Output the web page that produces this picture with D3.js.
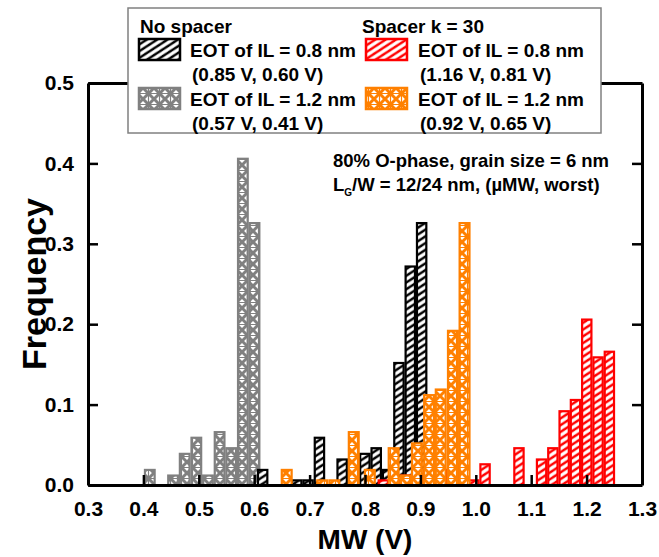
<!DOCTYPE html>
<html>
<head>
<meta charset="utf-8">
<script src="https://cdn.jsdelivr.net/npm/d3@7"></script>
<style>
  body { margin: 0; background: #fff; }
  svg text { font-family: "Liberation Sans", Arial, sans-serif; font-weight: bold; }
</style>
</head>
<body>
<div id="chart"></div>
<script>
// ---- data (MW in V, frequency) ----
const xTicks = [0.3, 0.4, 0.5, 0.6, 0.7, 0.8, 0.9, 1.0, 1.1, 1.2, 1.3];
const yTicks = [0.0, 0.1, 0.2, 0.3, 0.4, 0.5];

// no spacer, EOT of IL = 1.2 nm (gray)
const grayWidth = 0.0211;
const grayLeft = [0.401, 0.422, 0.443, 0.464, 0.485, 0.506, 0.527, 0.548, 0.569, 0.590];
const grayFreq = [0.020, 0.000, 0.013, 0.040, 0.060, 0.013, 0.067, 0.047, 0.407, 0.327];

// no spacer, EOT of IL = 0.8 nm (black)
const blackWidth = 0.0205;
const blackLeft = [0.605, 0.6255, 0.646, 0.6665, 0.687, 0.7075, 0.728, 0.7485, 0.769, 0.7895, 0.810, 0.8305, 0.851, 0.8715, 0.892];
const blackFreq = [0.020, 0.000, 0.000, 0.007, 0.007, 0.060, 0.000, 0.033, 0.013, 0.040, 0.047, 0.020, 0.153, 0.273, 0.327];

// spacer k = 30, EOT of IL = 0.8 nm (red)
const redWidth = 0.0204;
const redLeft = [0.8229, 0.8433, 0.8637, 0.8841, 0.9045, 0.9249, 0.9453, 0.9657, 0.9861, 1.0065, 1.0269, 1.0473, 1.0677, 1.0881, 1.1085, 1.1289, 1.1493, 1.1697, 1.1901, 1.2105, 1.2309];
const redFreq = [0.007, 0.007, 0.013, 0.013, 0.020, 0.013, 0.020, 0.027, 0.007, 0.027, 0.000, 0.000, 0.047, 0.000, 0.033, 0.047, 0.093, 0.107, 0.207, 0.160, 0.167];

// spacer k = 30, EOT of IL = 1.2 nm (orange)
const orangeWidth = 0.0214;
const orangeLeft = [0.648, 0.669, 0.691, 0.712, 0.734, 0.755, 0.769, 0.798, 0.819, 0.841, 0.862, 0.883, 0.905, 0.926, 0.948, 0.969];
const orangeFreq = [0.020, 0.000, 0.000, 0.007, 0.007, 0.000, 0.067, 0.020, 0.000, 0.047, 0.013, 0.053, 0.113, 0.120, 0.193, 0.327];

const width = 659, height = 557;
const margin = { left: 88, right: 17, top: 83, bottom: 72 };

const svg = d3.select("#chart").append("svg")
    .attr("width", width)
    .attr("height", height);

const x = d3.scaleLinear().domain([0.3, 1.3]).range([margin.left, width - margin.right]);
const y = d3.scaleLinear().domain([0, 0.5]).range([height - margin.bottom, margin.top]);

// hatch patterns
const defs = svg.append("defs");

function diagPattern(id, color) {
    const p = defs.append("pattern")
        .attr("id", id)
        .attr("patternUnits", "userSpaceOnUse")
        .attr("width", 8)
        .attr("height", 8)
        .attr("patternTransform", "rotate(12)");
    p.append("rect").attr("width", 8).attr("height", 8).attr("fill", "#fff");
    p.append("path")
        .attr("d", "M-2,2 l4,-4 M0,8 l8,-8 M6,10 l4,-4")
        .attr("stroke", color)
        .attr("stroke-width", 2.4);
}

function crossPattern(id, color) {
    const p = defs.append("pattern")
        .attr("id", id)
        .attr("patternUnits", "userSpaceOnUse")
        .attr("width", 11)
        .attr("height", 11);
    p.append("rect").attr("width", 11).attr("height", 11).attr("fill", "#fff");
    p.append("path")
        .attr("d", "M0,0 L11,11 M0,11 L11,0 M-1,-1 L1,1 M10,10 L12,12 M-1,12 L1,10 M10,1 L12,-1")
        .attr("stroke", color)
        .attr("stroke-width", 3);
    p.append("path")
        .attr("d", "M5.5,0 V11 M0,5.5 H11")
        .attr("stroke", color)
        .attr("stroke-width", 1.2);
}

diagPattern("hatchBlack", "#000");
diagPattern("hatchRed", "#ff0000");
crossPattern("crossGray", "#808080");
crossPattern("crossOrange", "#ff8000");

const series = [
    { left: grayLeft, freq: grayFreq, w: grayWidth, color: "#808080", fill: "url(#crossGray)" },
    { left: blackLeft, freq: blackFreq, w: blackWidth, color: "#000", fill: "url(#hatchBlack)" },
    { left: redLeft, freq: redFreq, w: redWidth, color: "#ff0000", fill: "url(#hatchRed)" },
    { left: orangeLeft, freq: orangeFreq, w: orangeWidth, color: "#ff8000", fill: "url(#crossOrange)" }
];

const plot = svg.append("g");

series.forEach((s) => {
    const bins = s.left.map((l, i) => ({ x0: l, x1: l + s.w, f: s.freq[i] })).filter((d) => d.f > 0);
    plot.append("g")
        .selectAll("rect")
        .data(bins)
        .join("rect")
        .attr("x", (d) => x(d.x0) + 1)
        .attr("y", (d) => y(d.f) + 1)
        .attr("width", (d) => x(d.x1) - x(d.x0) - 2)
        .attr("height", (d) => y(0) - y(d.f) - 1)
        .attr("fill", s.fill)
        .attr("stroke", s.color)
        .attr("stroke-width", 2.2);
});

// axes (ticks pointing inward)
const axisG = svg.append("g");

axisG.append("g")
    .attr("transform", `translate(0,${y(0)})`)
    .call(d3.axisBottom(x).tickValues(xTicks).tickFormat(d3.format(".1f")).tickSizeInner(-10).tickSizeOuter(0).tickPadding(16));

axisG.append("g")
    .attr("transform", `translate(0,${y(0.5)})`)
    .call(d3.axisTop(x).tickValues(xTicks).tickFormat("").tickSizeInner(0).tickSizeOuter(0));

axisG.append("g")
    .attr("transform", `translate(${x(0.3)},0)`)
    .call(d3.axisLeft(y).tickValues(yTicks).tickFormat(d3.format(".1f")).tickSizeInner(-10).tickSizeOuter(0).tickPadding(14));

axisG.append("g")
    .attr("transform", `translate(${x(1.3)},0)`)
    .call(d3.axisRight(y).tickValues(yTicks).tickFormat("").tickSizeInner(-10).tickSizeOuter(0));

axisG.selectAll(".domain").attr("stroke", "#000").attr("stroke-width", 3);
axisG.selectAll(".tick line").attr("stroke", "#000").attr("stroke-width", 2.5);
axisG.selectAll(".tick text").attr("font-size", 21).attr("fill", "#000");

// axis titles
svg.append("text")
    .attr("x", (x(0.3) + x(1.3)) / 2)
    .attr("y", 549)
    .attr("text-anchor", "middle")
    .attr("font-size", 28)
    .text("MW (V)");

svg.append("text")
    .attr("transform", `translate(46,${(y(0) + y(0.5)) / 2}) rotate(-90)`)
    .attr("text-anchor", "middle")
    .attr("font-size", 34)
    .text("Frequency");

// annotation
svg.append("text").attr("x", 333).attr("y", 167).attr("font-size", 18.5)
    .text("80% O-phase, grain size = 6 nm");
const note2 = svg.append("text").attr("x", 333).attr("y", 191).attr("font-size", 18.5);
note2.append("tspan").text("L");
note2.append("tspan").attr("font-size", 10).attr("dy", 5).text("G");
note2.append("tspan").attr("dy", -5).text("/W = 12/24 nm, (\u00b5MW, worst)");

// legend
const legend = svg.append("g");
legend.append("rect")
    .attr("x", 128).attr("y", 8)
    .attr("width", 473).attr("height", 125)
    .attr("fill", "#fff")
    .attr("stroke", "#808080")
    .attr("stroke-width", 1.5);

const legendItems = [
    { head: "No spacer", hx: 140, sx: 139, tx: 190, items: [
        { fill: "url(#hatchBlack)", color: "#000", label: "EOT of IL = 0.8 nm", sub: "(0.85 V, 0.60 V)" },
        { fill: "url(#crossGray)", color: "#808080", label: "EOT of IL = 1.2 nm", sub: "(0.57 V, 0.41 V)" }
    ] },
    { head: "Spacer k = 30", hx: 362, sx: 366, tx: 418, items: [
        { fill: "url(#hatchRed)", color: "#ff0000", label: "EOT of IL = 0.8 nm", sub: "(1.16 V, 0.81 V)" },
        { fill: "url(#crossOrange)", color: "#ff8000", label: "EOT of IL = 1.2 nm", sub: "(0.92 V, 0.65 V)" }
    ] }
];

legendItems.forEach((col) => {
    legend.append("text").attr("x", col.hx).attr("y", 33).attr("font-size", 19).text(col.head);
    col.items.forEach((it, i) => {
        const top = 39 + i * 49;
        legend.append("rect")
            .attr("x", col.sx).attr("y", top)
            .attr("width", 41).attr("height", 21)
            .attr("fill", it.fill)
            .attr("stroke", it.color)
            .attr("stroke-width", 2.5);
        legend.append("text").attr("x", col.tx).attr("y", top + 18).attr("font-size", 19).text(it.label);
        legend.append("text").attr("x", col.tx + 2).attr("y", top + 42).attr("font-size", 19).text(it.sub);
    });
});
</script>
</body>
</html>
